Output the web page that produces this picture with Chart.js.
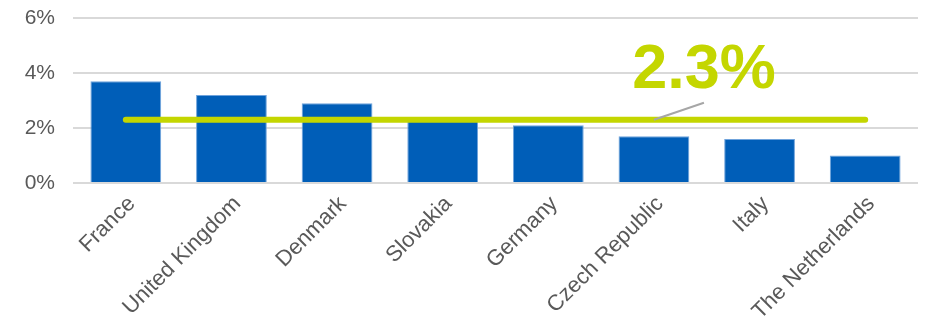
<!DOCTYPE html>
<html>
<head>
<meta charset="utf-8">
<script src="https://cdn.jsdelivr.net/npm/chart.js@4.4.1/dist/chart.umd.min.js"></script>
<style>
html,body{margin:0;padding:0;background:#fff;}
#wrap{width:925px;height:318px;position:relative;}
</style>
</head>
<body>
<div id="wrap"><canvas id="c" width="925" height="318"></canvas></div>
<script>
const categories = ["France","United Kingdom","Denmark","Slovakia","Germany","Czech Republic","Italy","The Netherlands"];
const shareValues = [3.7, 3.2, 2.9, 2.3, 2.1, 1.7, 1.6, 1.0];
const averageValue = 2.3;
const averageLabel = "2.3%";
const averageLabelIndex = 5;
const yTicks = [0, 2, 4, 6];

const averageLine = categories.map(() => averageValue);

const annotationPlugin = {
  id: 'avgAnnotation',
  afterDatasetsDraw(chart) {
    const ctx = chart.ctx;
    const xs = chart.scales.x, ys = chart.scales.y;
    const x0 = xs.getPixelForValue(averageLabelIndex);
    const y0 = ys.getPixelForValue(averageValue);
    const x1 = x0 + 50, y1 = y0 - 17;
    ctx.save();
    ctx.strokeStyle = '#a6a6a6';
    ctx.lineWidth = 2;
    ctx.beginPath();
    ctx.moveTo(x0, y0);
    ctx.lineTo(x1, y1);
    ctx.stroke();
    ctx.fillStyle = '#c4d600';
    ctx.font = 'bold 63px "Liberation Sans", Arial, sans-serif';
    ctx.textAlign = 'center';
    ctx.textBaseline = 'alphabetic';
    ctx.fillText(averageLabel, x1, y1 - 15);
    ctx.restore();
  }
};

new Chart(document.getElementById('c'), {
  data: {
    labels: categories,
    datasets: [
      {
        type: 'line',
        data: averageLine,
        borderColor: '#c4d600',
        borderWidth: 6,
        borderCapStyle: 'round',
        pointRadius: 0,
        fill: false,
        order: 0
      },
      {
        type: 'bar',
        data: shareValues,
        backgroundColor: '#005eb8',
        borderColor: '#6fa3dc',
        borderWidth: 1,
        categoryPercentage: 1,
        barPercentage: 0.67,
        order: 1
      }
    ]
  },
  options: {
    responsive: false,
    animation: false,
    layout: { padding: { top: 18, right: 7, left: 0, bottom: 0 } },
    plugins: { legend: { display: false }, tooltip: { enabled: false } },
    scales: {
      x: {
        grid: { display: false, drawTicks: false },
        border: { display: false },
        ticks: {
          autoSkip: false,
          maxRotation: 45,
          minRotation: 45,
          labelOffset: 6,
          padding: 8,
          color: '#595959',
          font: { family: '"Liberation Sans", Arial, sans-serif', size: 22 }
        },
        afterFit(s) { s.height = 135; s.paddingLeft = 0; s.paddingRight = 0; }
      },
      y: {
        min: 0,
        max: 6,
        afterBuildTicks(s) { s.ticks = yTicks.map(v => ({ value: v })); },
        grid: { color: '#d9d9d9', lineWidth: 2, drawTicks: false },
        border: { display: false },
        ticks: {
          padding: 18,
          color: '#595959',
          font: { family: '"Liberation Sans", Arial, sans-serif', size: 21 },
          callback: v => v + '%'
        },
        afterFit(s) { s.width = 73; s.paddingTop = 0; s.paddingBottom = 0; }
      }
    }
  },
  plugins: [annotationPlugin]
});
</script>
</body>
</html>
